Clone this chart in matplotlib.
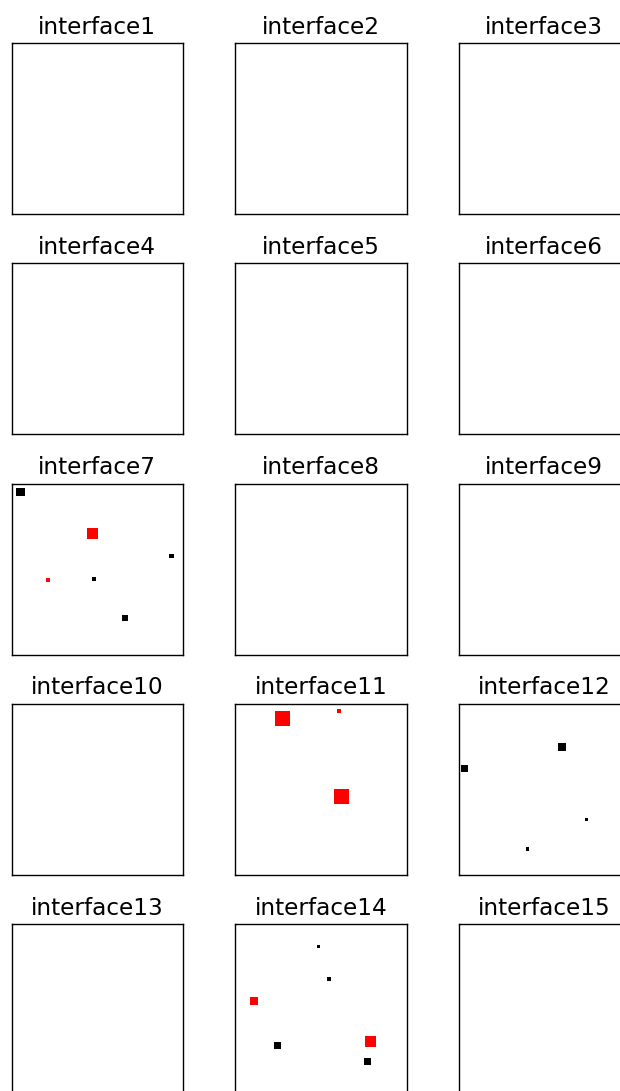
import matplotlib
matplotlib.use("Agg")
import matplotlib.pyplot as plt

# panel titles, 5 rows x 3 cols
titles = ["interface%d" % i for i in range(1, 16)]

# points per panel (index into titles): x, y in [0, 1], weight, class (1 = red, 0 = black)
pts7_x = [0.052, 0.470, 0.932, 0.213, 0.481, 0.659]
pts7_y = [0.949, 0.710, 0.577, 0.435, 0.442, 0.215]
pts7_w = [8.5, 11.0, 4.5, 4.0, 4.0, 6.0]
pts7_c = [0, 1, 0, 1, 0, 0]

pts11_x = [0.278, 0.606, 0.621]
pts11_y = [0.914, 0.959, 0.458]
pts11_w = [15.0, 4.0, 15.0]
pts11_c = [1, 1, 1]

pts12_x = [0.604, 0.033, 0.745, 0.402]
pts12_y = [0.749, 0.622, 0.323, 0.150]
pts12_w = [8.0, 7.0, 3.5, 3.5]
pts12_c = [0, 0, 0, 0]

pts14_x = [0.487, 0.549, 0.111, 0.245, 0.790, 0.769]
pts14_y = [0.867, 0.677, 0.551, 0.292, 0.312, 0.193]
pts14_w = [3.5, 4.0, 8.0, 7.0, 11.0, 7.0]
pts14_c = [0, 0, 1, 0, 1, 0]

points = {
    7: (pts7_x, pts7_y, pts7_w, pts7_c),
    11: (pts11_x, pts11_y, pts11_w, pts11_c),
    12: (pts12_x, pts12_y, pts12_w, pts12_c),
    14: (pts14_x, pts14_y, pts14_w, pts14_c),
}
colors = {0: "black", 1: "red"}

W, H, DPI = 620, 1091, 100
fig = plt.figure(figsize=(W / DPI, H / DPI), dpi=DPI)

# layout in pixels (the grid runs past the right/bottom edge like the reference crop)
left0, top0 = 11.5, 43.0
col_step, row_step = 223.5, 220.25
ax_w, ax_h = 171.7, 171.0

for k, title in enumerate(titles):
    r, c = divmod(k, 3)
    lx = left0 + c * col_step
    ty = top0 + r * row_step
    ax = fig.add_axes([lx / W, 1 - (ty + ax_h) / H, ax_w / W, ax_h / H])
    ax.set_xlim(0, 1)
    ax.set_ylim(0, 1)
    ax.set_xticks([])
    ax.set_yticks([])
    for sp in ax.spines.values():
        sp.set_linewidth(1.0)
    ax.set_title(title, fontsize=16.7, pad=6.8)
    idx = k + 1
    if idx in points:
        xs, ys, ws, cs = points[idx]
        # weight is marker side in px -> points^2
        s = [(w * 72 / DPI) ** 2 for w in ws]
        ax.scatter(xs, ys, s=s, marker="s", c=[colors[v] for v in cs],
                   linewidths=0, clip_on=True)

fig.savefig("out.png", dpi=DPI)
